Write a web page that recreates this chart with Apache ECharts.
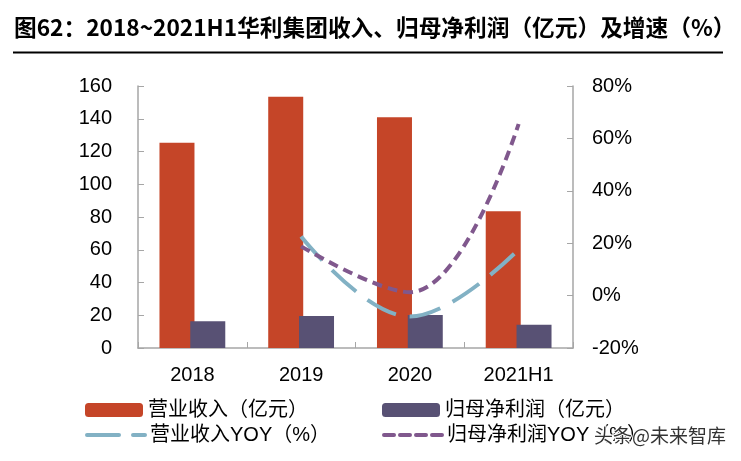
<!DOCTYPE html>
<html>
<head>
<meta charset="utf-8">
<script src="https://cdn.jsdelivr.net/npm/echarts@6/dist/echarts.min.js"></script>
<style>html,body{margin:0;padding:0;background:#fff}#c{width:741px;height:461px}</style>
</head>
<body>
<div id="c"></div>
<script>
const titleText = '图62：2018~2021H1华利集团收入、归母净利润（亿元）及增速（%）';
const categories = ['2018', '2019', '2020', '2021H1'];
const revenue = [125.4, 153.5, 140.9, 83.5];
const netProfit = [16.3, 19.5, 20.1, 14.2];
const revenueYoy = [null, 22.6, -8.0, 17.6];
const profitYoy = [null, 18.8, 1.3, 65.5];
const seriesNames = ['营业收入（亿元）', '归母净利润（亿元）', '营业收入YOY（%）', '归母净利润YOY（%）'];
const leftAxis = {min: 0, max: 160, interval: 20};
const rightAxis = {min: -20, max: 80, interval: 20};
const watermark = '头条@未来智库';

const FONT = "'Liberation Sans', 'Noto Sans CJK SC', sans-serif";
const axisColor = '#a6a6a6';
const blueDash = [32, 14];
const purpleDash = [10, 6];
const chart = echarts.init(document.getElementById('c'), null, {renderer: 'canvas'});

function legendItem(name, left, top, icon, lineStyle) {
  const lg = {
    data: [icon ? {name: name, icon: icon} : {name: name}],
    left: left, top: top, padding: 0,
    itemWidth: 58, itemHeight: 14,
    textStyle: {fontSize: 20, color: '#000', fontFamily: FONT},
    selectedMode: false
  };
  if (lineStyle) {
    lg.lineStyle = lineStyle;
    lg.itemStyle = {color: 'rgba(0,0,0,0)', borderWidth: 0, opacity: 0};
  }
  return lg;
}

chart.setOption({
  animation: false,
  title: {
    text: titleText, left: 14, top: 16, padding: 0,
    textStyle: {fontSize: 22.7, fontWeight: 'bold', color: '#000', fontFamily: "'Noto Sans CJK SC', sans-serif"}
  },
  graphic: [
    {type: 'line', shape: {x1: 13, y1: 52.5, x2: 723, y2: 52.5}, style: {stroke: '#000', lineWidth: 2}},
    {type: 'text', left: 593, top: 425, z: 100,
     style: {text: watermark, fontSize: 19, fill: '#333', fontFamily: "'Noto Sans CJK SC', sans-serif", stroke: '#fff', lineWidth: 2}}
  ],
  legend: [
    legendItem(seriesNames[0], 85, 400, 'roundRect'),
    legendItem(seriesNames[1], 382, 400, 'roundRect'),
    legendItem(seriesNames[2], 85, 425, null, {width: 4, type: blueDash, color: '#82b1c4', cap: 'round'}),
    legendItem(seriesNames[3], 382, 425, null, {width: 4, type: purpleDash, color: '#80588d', cap: 'round'})
  ],
  grid: {left: 138, right: 168, top: 86, bottom: 113, containLabel: false},
  xAxis: {
    type: 'category', data: categories,
    axisLine: {lineStyle: {color: axisColor, width: 1.5}},
    axisTick: {show: true, inside: true, length: 6, lineStyle: {color: axisColor}},
    axisLabel: {fontSize: 20, color: '#000', fontFamily: FONT, margin: 17}
  },
  yAxis: [
    {
      type: 'value', min: leftAxis.min, max: leftAxis.max, interval: leftAxis.interval,
      axisLine: {show: true, lineStyle: {color: axisColor, width: 1.5}},
      axisTick: {show: true, inside: true, length: 6, lineStyle: {color: axisColor}},
      splitLine: {show: false},
      axisLabel: {fontSize: 20, color: '#000', fontFamily: FONT, margin: 26}
    },
    {
      type: 'value', min: rightAxis.min, max: rightAxis.max, interval: rightAxis.interval,
      axisLine: {show: true, lineStyle: {color: axisColor, width: 1.5}},
      axisTick: {show: true, inside: true, length: 6, lineStyle: {color: axisColor}},
      splitLine: {show: false},
      axisLabel: {fontSize: 20, color: '#000', fontFamily: FONT, margin: 19, formatter: '{value}%'}
    }
  ],
  series: [
    {name: seriesNames[0], type: 'bar', data: revenue, barWidth: 35, barGap: '-12%',
     itemStyle: {color: '#c54528'}},
    {name: seriesNames[1], type: 'bar', data: netProfit, barWidth: 35,
     itemStyle: {color: '#585174'}},
    {name: seriesNames[2], type: 'line', yAxisIndex: 1, data: revenueYoy, smooth: 0.4,
     symbol: 'none', connectNulls: false,
     lineStyle: {color: '#82b1c4', width: 4, type: blueDash}, itemStyle: {color: '#82b1c4'}},
    {name: seriesNames[3], type: 'line', yAxisIndex: 1, data: profitYoy, smooth: 0.4,
     symbol: 'none', connectNulls: false,
     lineStyle: {color: '#80588d', width: 4, type: purpleDash}, itemStyle: {color: '#80588d'}}
  ]
});
</script>
</body>
</html>
